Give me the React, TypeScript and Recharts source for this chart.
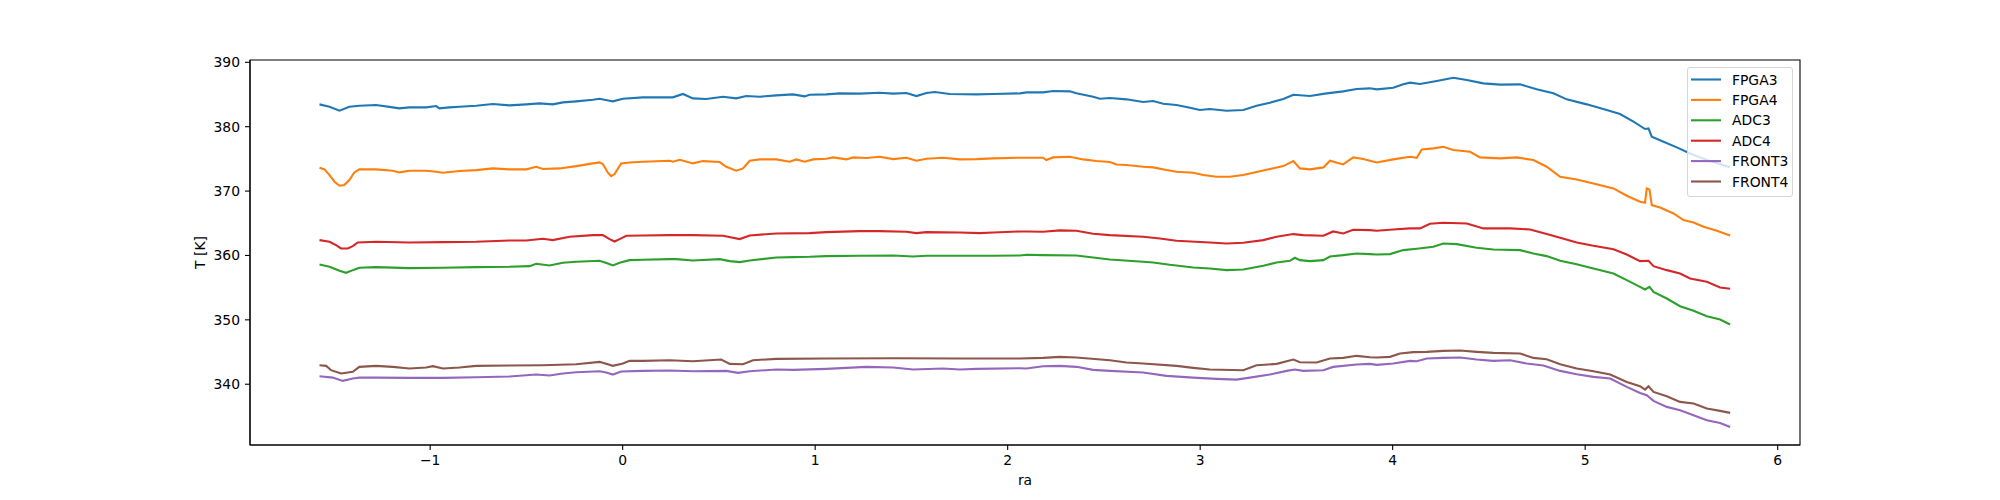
import { LineChart, Line, XAxis, YAxis, ReferenceArea } from 'recharts';

// ra / T[K] samples, one array per sensor
const FPGA3: [number, number][] = [
  [-1.575, 383.47], [-1.523, 383.11], [-1.471, 382.48], [-1.42, 383.11], [-1.368, 383.26], [-1.281, 383.37],
  [-1.194, 383.0], [-1.16, 382.85], [-1.108, 383.0], [-1.021, 383.0], [-0.969, 383.21], [-0.952, 382.85],
  [-0.9, 383.0], [-0.848, 383.11], [-0.761, 383.26], [-0.675, 383.52], [-0.588, 383.31], [-0.501, 383.47],
  [-0.432, 383.62], [-0.363, 383.47], [-0.311, 383.78], [-0.241, 383.94], [-0.155, 384.19], [-0.12, 384.35],
  [-0.068, 384.04], [-0.051, 383.94], [0.001, 384.35], [0.105, 384.56], [0.244, 384.56], [0.261, 384.56],
  [0.313, 385.08], [0.365, 384.4], [0.434, 384.3], [0.521, 384.66], [0.59, 384.4], [0.642, 384.76],
  [0.712, 384.66], [0.798, 384.87], [0.885, 385.02], [0.945, 384.71], [0.971, 384.97], [1.058, 385.02],
  [1.127, 385.18], [1.231, 385.13], [1.335, 385.28], [1.405, 385.13], [1.474, 385.23], [1.526, 384.76],
  [1.578, 385.23], [1.621, 385.39], [1.699, 385.08], [1.838, 385.02], [1.924, 385.08], [2.063, 385.18],
  [2.098, 385.33], [2.184, 385.33], [2.236, 385.54], [2.323, 385.49], [2.357, 385.18], [2.444, 384.66],
  [2.479, 384.35], [2.531, 384.45], [2.617, 384.25], [2.704, 383.83], [2.756, 383.99], [2.808, 383.57],
  [2.877, 383.37], [2.947, 382.95], [2.998, 382.59], [3.05, 382.74], [3.137, 382.48], [3.224, 382.59],
  [3.293, 383.26], [3.362, 383.73], [3.432, 384.3], [3.484, 384.97], [3.57, 384.76], [3.657, 385.18],
  [3.743, 385.49], [3.813, 385.85], [3.882, 385.96], [3.917, 385.8], [4.003, 386.06], [4.055, 386.58],
  [4.09, 386.84], [4.142, 386.63], [4.229, 387.1], [4.315, 387.61], [4.385, 387.25], [4.471, 386.73],
  [4.558, 386.53], [4.662, 386.58], [4.748, 385.8], [4.835, 385.18], [4.904, 384.25], [5.008, 383.47],
  [5.112, 382.59], [5.181, 381.97], [5.251, 380.78], [5.311, 379.64], [5.329, 379.74], [5.346, 378.44],
  [5.407, 377.67], [5.476, 376.79], [5.545, 375.85], [5.632, 374.82], [5.701, 374.2], [5.753, 373.68],
];

const FPGA4: [number, number][] = [
  [-1.575, 373.63], [-1.549, 373.37], [-1.523, 372.49], [-1.497, 371.45], [-1.471, 370.83], [-1.446, 370.93],
  [-1.42, 371.71], [-1.394, 372.9], [-1.368, 373.37], [-1.281, 373.37], [-1.194, 373.16], [-1.16, 372.9],
  [-1.108, 373.16], [-1.021, 373.16], [-0.969, 373.0], [-0.934, 372.85], [-0.848, 373.11], [-0.761, 373.26],
  [-0.675, 373.52], [-0.588, 373.37], [-0.501, 373.37], [-0.449, 373.78], [-0.415, 373.42], [-0.328, 373.52],
  [-0.241, 373.88], [-0.155, 374.3], [-0.12, 374.45], [-0.103, 374.2], [-0.077, 372.85], [-0.06, 372.33],
  [-0.042, 372.64], [-0.008, 374.3], [0.036, 374.45], [0.105, 374.56], [0.244, 374.71], [0.261, 374.56],
  [0.296, 374.87], [0.365, 374.3], [0.417, 374.66], [0.504, 374.51], [0.538, 373.78], [0.59, 373.16],
  [0.625, 373.52], [0.66, 374.71], [0.712, 374.92], [0.798, 374.92], [0.867, 374.56], [0.902, 374.92],
  [0.945, 374.56], [0.989, 374.92], [1.058, 375.02], [1.093, 375.23], [1.162, 374.92], [1.197, 375.23],
  [1.266, 375.13], [1.335, 375.34], [1.405, 374.97], [1.474, 375.18], [1.526, 374.71], [1.578, 375.02],
  [1.664, 375.18], [1.751, 374.92], [1.838, 374.97], [1.924, 375.08], [2.063, 375.18], [2.098, 375.18],
  [2.184, 375.18], [2.201, 374.82], [2.236, 375.23], [2.323, 375.34], [2.392, 374.92], [2.461, 374.66],
  [2.531, 374.51], [2.565, 374.14], [2.617, 374.04], [2.704, 373.78], [2.756, 373.68], [2.825, 373.26],
  [2.877, 373.0], [2.964, 372.85], [3.016, 372.49], [3.085, 372.23], [3.154, 372.23], [3.224, 372.49],
  [3.293, 372.95], [3.362, 373.42], [3.432, 373.88], [3.484, 374.66], [3.518, 373.52], [3.57, 373.37],
  [3.64, 373.68], [3.674, 374.71], [3.726, 374.3], [3.743, 374.14], [3.795, 375.23], [3.847, 374.97],
  [3.882, 374.71], [3.917, 374.45], [4.003, 374.92], [4.09, 375.34], [4.125, 375.18], [4.151, 376.47],
  [4.211, 376.63], [4.263, 376.89], [4.315, 376.37], [4.402, 376.11], [4.454, 375.23], [4.558, 375.08],
  [4.644, 375.23], [4.731, 374.82], [4.8, 373.78], [4.87, 372.23], [4.956, 371.81], [5.043, 371.19],
  [5.147, 370.41], [5.216, 369.27], [5.285, 368.34], [5.311, 368.19], [5.32, 370.41], [5.334, 370.26],
  [5.346, 367.82], [5.389, 367.46], [5.459, 366.53], [5.511, 365.49], [5.563, 365.13], [5.615, 364.45],
  [5.684, 363.83], [5.753, 363.11],
];

const ADC3: [number, number][] = [
  [-1.575, 358.6], [-1.523, 358.24], [-1.471, 357.62], [-1.437, 357.31], [-1.402, 357.72], [-1.368, 358.08],
  [-1.281, 358.19], [-1.108, 358.03], [-0.934, 358.08], [-0.761, 358.19], [-0.588, 358.24], [-0.484, 358.34],
  [-0.449, 358.7], [-0.38, 358.45], [-0.311, 358.86], [-0.241, 359.02], [-0.12, 359.17], [-0.077, 358.76],
  [-0.051, 358.45], [-0.016, 358.86], [0.036, 359.27], [0.105, 359.33], [0.244, 359.43], [0.278, 359.43],
  [0.365, 359.22], [0.504, 359.43], [0.556, 359.12], [0.608, 358.96], [0.66, 359.22], [0.798, 359.69],
  [0.885, 359.74], [0.971, 359.79], [1.058, 359.9], [1.231, 359.95], [1.405, 360.0], [1.509, 359.84],
  [1.578, 359.95], [1.751, 359.95], [1.924, 359.95], [2.063, 360.0], [2.098, 360.1], [2.184, 360.05],
  [2.357, 360.0], [2.444, 359.69], [2.531, 359.38], [2.704, 359.02], [2.756, 358.91], [2.842, 358.55],
  [2.964, 358.13], [3.05, 357.98], [3.137, 357.72], [3.224, 357.82], [3.328, 358.39], [3.397, 358.91],
  [3.466, 359.17], [3.492, 359.64], [3.518, 359.27], [3.57, 359.12], [3.64, 359.27], [3.674, 359.84],
  [3.743, 360.05], [3.813, 360.31], [3.882, 360.21], [3.917, 360.15], [3.986, 360.21], [4.055, 360.83],
  [4.125, 361.04], [4.211, 361.35], [4.263, 361.86], [4.333, 361.76], [4.436, 361.19], [4.523, 360.93],
  [4.662, 360.83], [4.731, 360.31], [4.8, 359.9], [4.87, 359.17], [4.956, 358.65], [5.043, 357.98],
  [5.147, 357.2], [5.216, 356.17], [5.285, 355.13], [5.311, 354.72], [5.334, 355.13], [5.355, 354.35],
  [5.424, 353.32], [5.493, 352.12], [5.563, 351.4], [5.632, 350.57], [5.701, 350.05], [5.753, 349.28],
];

const ADC4: [number, number][] = [
  [-1.575, 362.38], [-1.523, 362.12], [-1.489, 361.6], [-1.463, 361.09], [-1.428, 361.09], [-1.402, 361.45],
  [-1.376, 362.02], [-1.281, 362.12], [-1.108, 362.02], [-0.934, 362.07], [-0.761, 362.12], [-0.588, 362.33],
  [-0.501, 362.33], [-0.415, 362.59], [-0.363, 362.38], [-0.276, 362.9], [-0.155, 363.16], [-0.103, 363.16],
  [-0.068, 362.54], [-0.042, 362.17], [-0.016, 362.54], [0.019, 363.06], [0.105, 363.11], [0.244, 363.16],
  [0.365, 363.16], [0.521, 363.06], [0.608, 362.54], [0.66, 363.11], [0.798, 363.42], [0.971, 363.47],
  [1.058, 363.63], [1.231, 363.78], [1.335, 363.78], [1.474, 363.68], [1.526, 363.47], [1.578, 363.63],
  [1.751, 363.57], [1.855, 363.47], [1.924, 363.57], [2.063, 363.73], [2.098, 363.73], [2.184, 363.68],
  [2.271, 363.89], [2.357, 363.83], [2.444, 363.37], [2.531, 363.16], [2.704, 362.9], [2.791, 362.64],
  [2.877, 362.28], [3.05, 362.02], [3.137, 361.86], [3.224, 361.97], [3.328, 362.38], [3.397, 362.9],
  [3.484, 363.32], [3.535, 363.16], [3.64, 363.06], [3.691, 363.73], [3.743, 363.42], [3.795, 363.99],
  [3.882, 363.94], [3.917, 363.83], [4.003, 364.04], [4.09, 364.2], [4.142, 364.2], [4.194, 364.92],
  [4.263, 365.08], [4.385, 364.97], [4.471, 364.2], [4.61, 364.2], [4.714, 364.04], [4.8, 363.32],
  [4.87, 362.75], [4.956, 362.02], [5.043, 361.5], [5.147, 360.98], [5.216, 360.15], [5.285, 359.12],
  [5.329, 359.17], [5.355, 358.34], [5.424, 357.72], [5.493, 357.2], [5.545, 356.43], [5.632, 355.91],
  [5.701, 355.03], [5.753, 354.82],
];

const FRONT3: [number, number][] = [
  [-1.575, 341.24], [-1.506, 341.03], [-1.454, 340.52], [-1.402, 340.88], [-1.368, 341.03], [-1.281, 341.03],
  [-1.108, 340.98], [-0.934, 340.98], [-0.761, 341.09], [-0.588, 341.19], [-0.449, 341.5], [-0.38, 341.35],
  [-0.311, 341.66], [-0.241, 341.87], [-0.12, 342.02], [-0.085, 341.81], [-0.051, 341.5], [-0.008, 341.97],
  [0.105, 342.07], [0.244, 342.12], [0.365, 342.02], [0.538, 342.07], [0.599, 341.76], [0.66, 342.02],
  [0.798, 342.28], [0.885, 342.23], [1.058, 342.38], [1.266, 342.69], [1.405, 342.59], [1.509, 342.28],
  [1.664, 342.44], [1.751, 342.28], [1.838, 342.38], [2.063, 342.49], [2.098, 342.44], [2.184, 342.8],
  [2.271, 342.85], [2.357, 342.7], [2.444, 342.23], [2.531, 342.07], [2.704, 341.81], [2.825, 341.3],
  [2.964, 341.03], [3.085, 340.83], [3.189, 340.72], [3.258, 341.03], [3.362, 341.5], [3.449, 342.07],
  [3.492, 342.28], [3.535, 342.07], [3.64, 342.18], [3.691, 342.69], [3.813, 343.06], [3.882, 343.16],
  [3.917, 343.0], [4.003, 343.21], [4.09, 343.63], [4.125, 343.58], [4.177, 343.99], [4.263, 344.09],
  [4.35, 344.15], [4.436, 343.83], [4.523, 343.63], [4.61, 343.73], [4.696, 343.21], [4.783, 342.9],
  [4.87, 342.07], [4.956, 341.56], [5.043, 341.14], [5.13, 340.88], [5.216, 339.59], [5.285, 338.65],
  [5.32, 338.29], [5.355, 337.41], [5.424, 336.48], [5.493, 335.96], [5.563, 335.18], [5.632, 334.4],
  [5.701, 333.99], [5.753, 333.37],
];

const FRONT4: [number, number][] = [
  [-1.575, 342.95], [-1.54, 342.85], [-1.515, 342.18], [-1.463, 341.66], [-1.402, 341.92], [-1.368, 342.7],
  [-1.281, 342.85], [-1.194, 342.7], [-1.108, 342.44], [-1.021, 342.59], [-0.986, 342.8], [-0.934, 342.44],
  [-0.848, 342.59], [-0.761, 342.85], [-0.588, 342.9], [-0.415, 342.95], [-0.241, 343.11], [-0.12, 343.47],
  [-0.103, 343.32], [-0.051, 342.85], [0.001, 343.21], [0.036, 343.63], [0.105, 343.63], [0.244, 343.73],
  [0.365, 343.58], [0.512, 343.83], [0.556, 343.16], [0.625, 343.11], [0.677, 343.73], [0.798, 343.94],
  [1.058, 343.99], [1.405, 344.04], [1.751, 343.99], [2.063, 343.99], [2.184, 344.09], [2.271, 344.25],
  [2.357, 344.15], [2.531, 343.73], [2.617, 343.37], [2.704, 343.21], [2.877, 342.85], [2.964, 342.54],
  [3.05, 342.28], [3.224, 342.18], [3.293, 342.95], [3.397, 343.16], [3.484, 343.83], [3.518, 343.42],
  [3.605, 343.37], [3.674, 343.99], [3.743, 344.09], [3.813, 344.41], [3.882, 344.2], [3.917, 344.15],
  [3.986, 344.25], [4.038, 344.77], [4.107, 344.98], [4.177, 345.03], [4.263, 345.18], [4.35, 345.23],
  [4.436, 345.03], [4.523, 344.87], [4.662, 344.77], [4.731, 344.09], [4.8, 343.89], [4.87, 343.11],
  [4.956, 342.44], [5.043, 342.02], [5.13, 341.5], [5.216, 340.36], [5.285, 339.69], [5.311, 339.17],
  [5.329, 339.69], [5.355, 338.81], [5.424, 338.14], [5.493, 337.26], [5.563, 337.0], [5.632, 336.22],
  [5.701, 335.86], [5.753, 335.55],
];

const xTicks = [-1, 0, 1, 2, 3, 4, 5, 6];
const yTicks = [340, 350, 360, 370, 380, 390];

const series = [
  { name: 'FPGA3', color: '#1f77b4', points: FPGA3 },
  { name: 'FPGA4', color: '#ff7f0e', points: FPGA4 },
  { name: 'ADC3', color: '#2ca02c', points: ADC3 },
  { name: 'ADC4', color: '#d62728', points: ADC4 },
  { name: 'FRONT3', color: '#9467bd', points: FRONT3 },
  { name: 'FRONT4', color: '#8c564b', points: FRONT4 },
];

const FONT = '"DejaVu Sans", sans-serif';
const tickStyle = { fontFamily: FONT, fontSize: 13.9, fill: '#000' };

const fmt = (v: number) => (v < 0 ? '\u2212' + Math.abs(v) : String(v));

const LegendBox = () => (
  <div
    style={{
      position: 'absolute',
      left: 1687,
      top: 67,
      width: 106,
      height: 130,
      boxSizing: 'border-box',
      border: '1px solid #d6d6d6',
      borderRadius: 3,
      background: 'rgba(255,255,255,0.8)',
    }}
  >
    <svg width={104} height={128} style={{ position: 'absolute', left: 0, top: 0 }}>
      {series.map((s, i) => {
        const y = 11.5 + i * 20.4;
        return (
          <g key={s.name}>
            <line x1={3} x2={33} y1={y} y2={y} stroke={s.color} strokeWidth={2.1} />
            <text x={44} y={y} dominantBaseline="central" style={{ fontFamily: FONT, fontSize: 13.9, fill: '#000' }}>
              {s.name}
            </text>
          </g>
        );
      })}
    </svg>
  </div>
);

export default function App() {
  return (
    <div style={{ position: 'absolute', left: 0, top: 0, width: 2000, height: 500, background: '#fff' }}>
      <LineChart width={2000} height={500} margin={{ top: 60, right: 200, bottom: 25, left: 190 }}>
        <XAxis
          dataKey="ra"
          type="number"
          domain={[-1.936, 6.116]}
          ticks={xTicks}
          allowDataOverflow
          tickFormatter={fmt}
          height={30}
          tickSize={5}
          tickMargin={5}
          tick={tickStyle}
          stroke="#000"
          axisLine={{ stroke: '#000', strokeWidth: 1.1 }}
          tickLine={{ stroke: '#000', strokeWidth: 1.1 }}
        />
        <YAxis
          type="number"
          domain={[330.56, 390.36]}
          ticks={yTicks}
          allowDataOverflow
          width={60}
          tickSize={5}
          tickMargin={5}
          tick={tickStyle}
          stroke="#000"
          axisLine={{ stroke: '#000', strokeWidth: 1.1 }}
          tickLine={{ stroke: '#000', strokeWidth: 1.1 }}
        />
        {series.map((s) => (
          <Line
            key={s.name}
            name={s.name}
            data={s.points.map(([ra, T]) => ({ ra, T }))}
            dataKey="T"
            type="linear"
            stroke={s.color}
            strokeWidth={2.1}
            dot={false}
            activeDot={false}
            isAnimationActive={false}
          />
        ))}
        <ReferenceArea
          x1={-1.936}
          x2={6.116}
          y1={330.56}
          y2={390.36}
          fill="none"
          stroke="#000"
          strokeWidth={1.1}
          ifOverflow="visible"
        />
        <text x={1025} y={480} textAnchor="middle" dominantBaseline="central" style={{ fontFamily: FONT, fontSize: 13.9, fill: '#000' }}>
          ra
        </text>
        <text
          x={200}
          y={252.5}
          textAnchor="middle"
          dominantBaseline="central"
          transform="rotate(-90 200 252.5)"
          style={{ fontFamily: FONT, fontSize: 13.9, fill: '#000' }}
        >
          T [K]
        </text>
      </LineChart>
      <LegendBox />
    </div>
  );
}
